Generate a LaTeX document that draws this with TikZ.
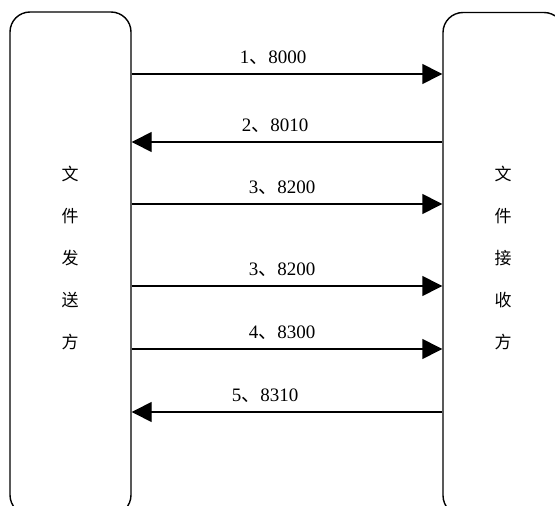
\documentclass[tikz,border=0pt]{standalone}
\usepackage{fontspec}
\setmainfont{Liberation Serif}
\newfontfamily\cjk{Noto Sans CJK SC}
\usetikzlibrary{arrows.meta}
\newcommand{\dun}{{\cjk 、}}

\begin{document}
\begin{tikzpicture}[x=1pt, y=-1pt, >={Triangle[length=20pt,width=20pt]}, line width=1.4pt,
    party/.style={draw, rounded corners=20pt, minimum width=121pt, minimum height=503pt, inner sep=0pt},
    msg/.style={font=\fontsize{19}{19}\selectfont, inner sep=0pt},
    side/.style={font=\cjk\fontsize{17}{42}\selectfont, align=center, inner sep=0pt}]
  \clip (0,0) rectangle (555,506);
  \node[party] (send) at (70.5,263.5) {};
  \node[party] (recv) at (503.5,264) {};
  \node[side] (sendtxt) at (70,258) {文\\件\\发\\送\\方};
  \node[side] (recvtxt) at (503,258) {文\\件\\接\\收\\方};
  % messages
  \foreach \y/\x/\lab/\dir in {74/273/1\dun 8000/->, 142/275/2\dun 8010/<-, 204/282/3\dun 8200/->,
      286/282/3\dun 8200/->, 349/282/4\dun 8300/->, 412/265/5\dun 8310/<-}
    \draw[\dir] (send.east |- 0,\y) -- (recv.west |- 0,\y) node[msg] at (\x,\y-16) {\lab};
\end{tikzpicture}
\end{document}
